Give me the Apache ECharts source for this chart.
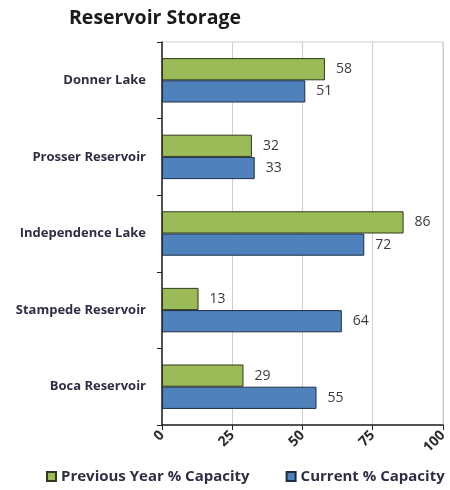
<!DOCTYPE html>
<html>
<head>
<meta charset="utf-8">
<script src="https://cdn.jsdelivr.net/npm/echarts@6/dist/echarts.min.js"></script>
<style>
  html, body { margin: 0; padding: 0; background: #ffffff; }
  #chart { width: 450px; height: 490px; }
</style>
</head>
<body>
<div id="chart"></div>
<script>
// Reservoir storage, percent of capacity
const reservoirs = ['Donner Lake', 'Prosser Reservoir', 'Independence Lake', 'Stampede Reservoir', 'Boca Reservoir'];
const previousYear = [58, 32, 86, 13, 29];
const current = [51, 33, 72, 64, 55];
const seriesNames = ['Previous Year % Capacity', 'Current % Capacity'];
const valueTicks = [0, 25, 50, 75, 100];

const FONT = '"Open Sans", Lato, sans-serif';
const TEXT_COLOR = '#2e2e44';

const chart = echarts.init(document.getElementById('chart'), null, { renderer: 'canvas' });

const barLabel = {
  show: true,
  position: 'right',
  distance: 11,
  color: '#3a3a3a',
  fontFamily: FONT,
  fontSize: 14
};

chart.setOption({
  animation: false,
  backgroundColor: '#ffffff',
  title: {
    text: 'Reservoir Storage',
    left: 64,
    top: 3,
    textStyle: { fontFamily: FONT, fontWeight: 'bold', fontSize: 19.5, color: '#1a1a1a' }
  },
  legend: {
    bottom: 1,
    left: 41,
    itemWidth: 9,
    itemHeight: 9,
    itemGap: 36,
    icon: 'rect',
    textStyle: { fontFamily: FONT, fontWeight: 'bold', fontSize: 15, color: TEXT_COLOR },
    data: seriesNames
  },
  grid: {
    left: 162,
    right: 6,
    top: 42,
    bottom: 65,
    show: true,
    borderColor: '#cfcfcf',
    borderWidth: 1
  },
  xAxis: {
    type: 'value',
    min: valueTicks[0],
    max: valueTicks[valueTicks.length - 1],
    interval: 25,
    axisLine: { show: true, lineStyle: { color: '#222', width: 1.5 } },
    axisTick: { show: true, length: 5, lineStyle: { color: '#222' } },
    splitLine: { show: true, lineStyle: { color: '#cfcfcf' } },
    axisLabel: {
      rotate: 45,
      margin: 8,
      fontFamily: FONT,
      fontWeight: 'bold',
      fontSize: 14,
      color: '#2a2a2a'
    }
  },
  yAxis: {
    type: 'category',
    inverse: true,
    data: reservoirs,
    axisLine: { show: true, lineStyle: { color: '#222', width: 1.5 } },
    axisTick: { show: true, length: 5, lineStyle: { color: '#222' } },
    axisLabel: {
      margin: 16,
      fontFamily: FONT,
      fontWeight: 'bold',
      fontSize: 13,
      color: TEXT_COLOR
    }
  },
  series: [
    {
      name: seriesNames[0],
      type: 'bar',
      data: previousYear,
      barGap: '0%',
      barCategoryGap: '42%',
      itemStyle: { color: '#9bbb59', borderColor: '#2f3a1c', borderWidth: 1 },
      label: barLabel
    },
    {
      name: seriesNames[1],
      type: 'bar',
      data: current,
      barGap: '0%',
      barCategoryGap: '42%',
      itemStyle: { color: '#4f81bd', borderColor: '#1c2c44', borderWidth: 1 },
      label: barLabel
    }
  ]
});
</script>
</body>
</html>
